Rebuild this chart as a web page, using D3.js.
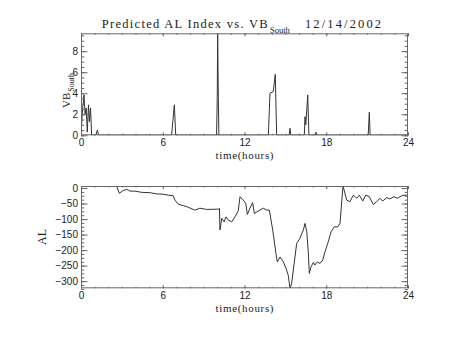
<!DOCTYPE html>
<html><head><meta charset="utf-8">
<script src="https://cdn.jsdelivr.net/npm/d3@7"></script>
<style>body{margin:0;background:#fff}</style></head>
<body><script>
// ---- data ----
const vbTime  = [0.0,0.1,0.22,0.3,0.38,0.46,0.55,0.62,0.7,0.78,1.1,1.2,1.3,3.0,3.08,3.16,6.65,6.8,6.85,6.95,9.95,10.0,10.03,10.08,10.12,13.75,13.87,14.11,14.26,14.36,15.28,15.34,15.4,15.9,15.95,16.0,16.39,16.44,16.5,16.64,16.73,17.2,17.25,17.3,21.08,21.16,21.22,24.0];
const vbValue = [0,2.2,3.84,2.0,2.6,0.3,2.9,1.3,2.6,0,0,0.5,0,0,0.12,0,0,2.2,2.9,0,0,3.7,9.7,3.5,0,0,4.0,4.15,5.8,0,0,0.67,0,0,0.1,0,0,1.77,1.0,3.84,0,0,0.3,0,0,2.19,0,0];

const alTime  = [2.62,2.81,3.06,3.35,3.60,3.96,4.46,5.06,5.56,6.04,6.41,6.77,6.90,7.14,7.51,7.88,8.24,8.37,8.73,9.23,10.08,10.16,10.2,10.33,10.50,10.64,10.81,11.06,11.30,11.54,11.67,11.91,12.09,12.21,12.40,12.60,12.72,13.01,13.38,13.63,13.82,14.07,14.31,14.41,14.61,14.85,15.05,15.21,15.34,15.46,15.63,15.83,16.07,16.32,16.44,16.57,16.68,16.76,16.88,17.05,17.17,17.34,17.54,17.74,17.91,18.15,18.35,18.59,18.84,19.01,19.21,19.25,19.50,19.74,19.99,20.23,20.43,20.68,20.90,21.16,21.45,21.70,21.94,22.14,22.44,22.68,22.97,23.21,23.54,23.78,24.0];
const alValue = [6,-17,-9,-4,-10,-10,-14,-15,-19,-20,-23,-25,-39,-52,-57,-62,-69,-71,-65,-69,-68,-66,-135,-98,-109,-93,-103,-109,-93,-74,-28,-39,-49,-85,-65,-47,-82,-74,-65,-71,-71,-135,-211,-238,-222,-238,-259,-281,-323,-307,-248,-178,-162,-135,-114,-141,-205,-275,-254,-240,-248,-238,-243,-232,-205,-173,-141,-125,-125,-114,-3,4,-39,-44,-23,-33,-23,-42,-23,-28,-53,-44,-33,-42,-31,-35,-28,-33,-25,-23,-23];

const xMajor = [0,6,12,18,24];
const xMinor = d3.range(0,25,1);
const vbMajor = [0,2,4,6,8];
const vbMinor = d3.range(0,9.75,0.5);
const alMajor = [0,-50,-100,-150,-200,-250,-300];
const alMinor = d3.range(-325,0.1,12.5);

const W=453,H=340;
const svg=d3.select("body").append("svg").attr("width",W).attr("height",H)
  .style("font-family","'Liberation Serif','DejaVu Serif',serif");

const L=81,R=408;
const x=d3.scaleLinear().domain([0,24]).range([L,R]);
const yVB=d3.scaleLinear().domain([0,9.7]).range([135.3,33.3]);
const yAL=d3.scaleLinear().domain([-323,6.5]).range([288.3,186]);

const frameCol="#666", lineCol="#333", textCol="#222";

function panel(id,y,major,minor,vt,vv){
  const g=svg.append("g");
  const [b,t]=y.range();
  g.append("clipPath").attr("id",id).append("rect")
    .attr("x",L).attr("y",t).attr("width",R-L).attr("height",b-t);
  const line=d3.line().x((d,i)=>x(vt[i])).y((d,i)=>y(vv[i]));
  g.append("path").datum(vv).attr("d",line).attr("fill","none")
    .attr("stroke",lineCol).attr("stroke-width",1).attr("clip-path",`url(#${id})`);
  const ax=(axis,tr,vals,size,lab)=>{
    const a=g.append("g").attr("transform",tr)
      .call(axis.tickValues(vals).tickSize(size).tickFormat(lab?d3.format("d"):""));
    a.select(".domain").remove();
    a.selectAll("line").attr("stroke",frameCol);
    a.selectAll("text").attr("fill",textCol).style("font-size","10px");
    return a;
  };
  ax(d3.axisBottom(x),`translate(0,${b})`,xMinor,-1.5,false);
  ax(d3.axisTop(x),`translate(0,${t})`,xMinor,-1.5,false);
  const xb=ax(d3.axisBottom(x),`translate(0,${b})`,xMajor,-3,true);
  xb.selectAll("text").attr("y",4).attr("dy","0.71em");
  ax(d3.axisTop(x),`translate(0,${t})`,xMajor,-3,false);
  ax(d3.axisLeft(y),`translate(${L},0)`,minor,-3.3,false);
  ax(d3.axisRight(y),`translate(${R},0)`,minor,-3.3,false);
  const yl=ax(d3.axisLeft(y),`translate(${L},0)`,major,-6.5,true);
  yl.selectAll("text").attr("x",-3);
  ax(d3.axisRight(y),`translate(${R},0)`,major,-6.5,false);
  g.append("rect").attr("x",L+0.5).attr("y",t+0.5).attr("width",R-L-1).attr("height",b-t-1)
    .attr("fill","none").attr("stroke",frameCol).attr("stroke-width",1);
  g.append("text").attr("x",(L+R)/2 - 29).attr("y",b+24)
    .attr("textLength",58).attr("lengthAdjust","spacing")
    .attr("fill",textCol).style("font-size","11px").text("time(hours)");
  return g;
}
panel("c1",yVB,vbMajor,vbMinor,vbTime,vbValue);
panel("c2",yAL,alMajor,alMinor,alTime,alValue);

// title
const tt=svg.append("g").attr("fill",textCol);
tt.append("text").attr("x",101.7).attr("y",28).style("font-size","12.5px")
  .attr("textLength",166).attr("lengthAdjust","spacing").text("Predicted AL Index vs. VB");
tt.append("text").attr("x",270).attr("y",33).style("font-size","8.5px").text("South");
tt.append("text").attr("x",305).attr("y",28).style("font-size","12.5px")
  .attr("textLength",76).attr("lengthAdjust","spacing").text("12/14/2002");

// y labels
const yl1=svg.append("text").attr("transform","translate(69.5,108) rotate(-90)").attr("fill",textCol);
yl1.append("tspan").style("font-size","11px").text("VB");
yl1.append("tspan").attr("dy",4).attr("dx",1).style("font-size","8px").text("South");
svg.append("text").attr("transform","translate(45.5,237) rotate(-90)").attr("text-anchor","middle")
  .attr("fill",textCol).style("font-size","12px").text("AL");
</script></body></html>
